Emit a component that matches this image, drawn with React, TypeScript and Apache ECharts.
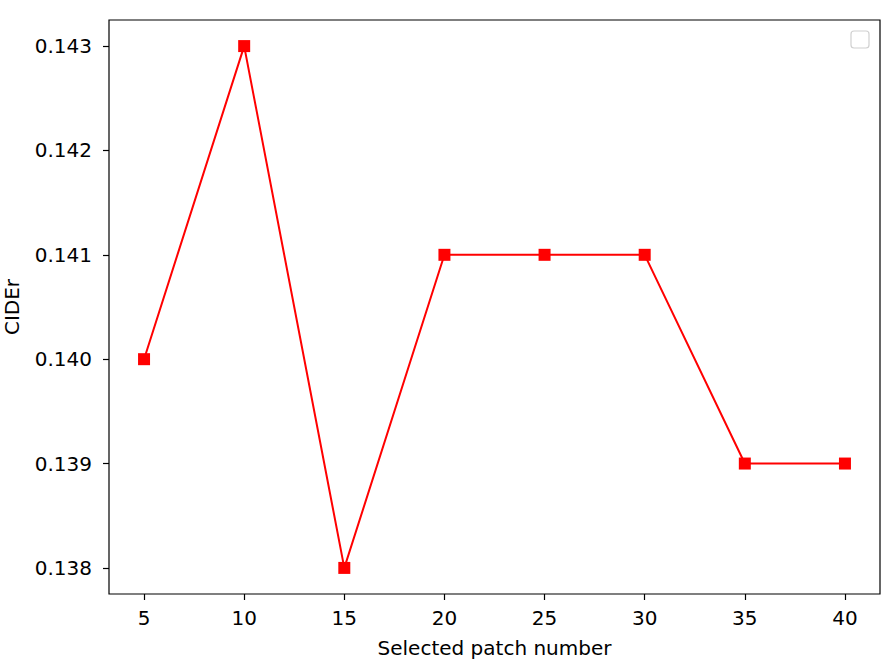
import React, { useEffect, useRef } from "react";
import * as echarts from "echarts";

const patchNumbers = [5, 10, 15, 20, 25, 30, 35, 40];
const ciderValues = [0.14, 0.143, 0.138, 0.141, 0.141, 0.141, 0.139, 0.139];
const xTicks = [5, 10, 15, 20, 25, 30, 35, 40];
const yTicks = [0.138, 0.139, 0.14, 0.141, 0.142, 0.143];

const FONT = "DejaVu Sans";
const FS = 20;

export default function App() {
  const ref = useRef<HTMLDivElement>(null);
  useEffect(() => {
    document.body.style.margin = "0";
    const chart = echarts.init(ref.current!, null, { renderer: "svg" });
    chart.setOption({
      animation: false,
      backgroundColor: "#ffffff",
      textStyle: { fontFamily: FONT },
      grid: {
        left: 109,
        right: 10,
        top: 20,
        bottom: 72,
        containLabel: false,
        outerBoundsMode: "none",
        show: true,
        borderColor: "#000000",
        borderWidth: 1.2,
        backgroundColor: "transparent",
      },
      xAxis: {
        type: "value",
        min: 3.25,
        max: 41.75,
        name: "Selected patch number",
        nameLocation: "middle",
        nameGap: 44,
        nameTextStyle: { fontFamily: FONT, fontSize: FS, color: "#000" },
        splitLine: { show: false },
        axisLine: { show: false },
        axisTick: {
          show: true,
          customValues: xTicks,
          length: 6,
          lineStyle: { color: "#000", width: 1.2 },
        },
        axisLabel: {
          customValues: xTicks,
          margin: 14,
          fontFamily: FONT,
          fontSize: FS,
          color: "#000",
        },
      },
      yAxis: {
        type: "value",
        min: 0.13775,
        max: 0.14325,
        name: "CIDEr",
        nameLocation: "middle",
        nameGap: 87,
        nameRotate: 90,
        nameTextStyle: { fontFamily: FONT, fontSize: FS, color: "#000" },
        splitLine: { show: false },
        axisLine: { show: false },
        axisTick: {
          show: true,
          customValues: yTicks,
          length: 6,
          lineStyle: { color: "#000", width: 1.2 },
        },
        axisLabel: {
          customValues: yTicks,
          margin: 17,
          fontFamily: FONT,
          fontSize: FS,
          color: "#000",
          formatter: (v: number) => v.toFixed(3),
        },
      },
      graphic: [
        {
          type: "rect",
          shape: { x: 851, y: 31, width: 18, height: 17, r: 3 },
          style: { fill: "#ffffff", stroke: "#d0d0d0", lineWidth: 1.2 },
        },
      ],
      series: [
        {
          type: "line",
          data: patchNumbers.map((x, i) => [x, ciderValues[i]]),
          symbol: "rect",
          symbolSize: 12,
          itemStyle: { color: "#ff0000" },
          lineStyle: { color: "#ff0000", width: 2 },
        },
      ],
    });
    return () => chart.dispose();
  }, []);
  return <div ref={ref} style={{ width: 890, height: 666 }} />;
}
